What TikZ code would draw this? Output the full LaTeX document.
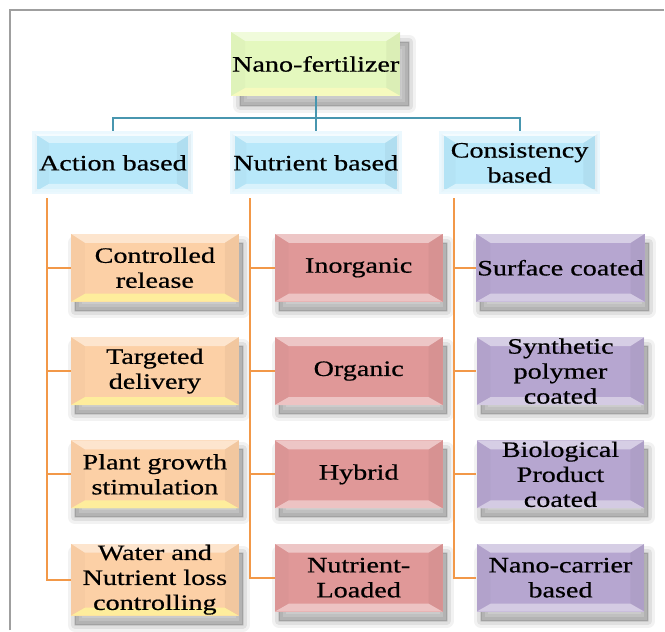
\documentclass[tikz,border=0pt]{standalone}
\usepackage{fontspec}
\setmainfont{Liberation Serif}[FakeStretch=1.28, FakeBold=0.6]
\usetikzlibrary{positioning,calc}
\definecolor{nanoGreen}{RGB}{228,248,190}
\definecolor{baseBlue}{RGB}{184,232,250}
\definecolor{actPeach}{RGB}{252,208,166}
\definecolor{nutRose}{RGB}{224,152,152}
\definecolor{consLilac}{RGB}{182,166,208}
\definecolor{linkTeal}{RGB}{72,150,175}
\definecolor{linkOrange}{RGB}{242,152,72}

\begin{document}
\begin{tikzpicture}[x=1pt, y=-1pt,
    every node/.style={font=\fontsize{22}{25}\selectfont, align=center, text=black},
    bevel/.style={postaction={path picture={
        \fill[white, opacity=0.45] (path picture bounding box.north west) -- (path picture bounding box.north east)
          -- ([xshift=-14pt, yshift=-9pt]path picture bounding box.north east) -- ([xshift=14pt, yshift=-9pt]path picture bounding box.north west) -- cycle;
        \fill[#1, opacity=0.7] (path picture bounding box.south west) -- (path picture bounding box.south east)
          -- ([xshift=-14pt, yshift=8pt]path picture bounding box.south east) -- ([xshift=14pt, yshift=8pt]path picture bounding box.south west) -- cycle;
        \fill[black, opacity=0.04] (path picture bounding box.north east) -- ([xshift=-14pt, yshift=-9pt]path picture bounding box.north east)
          -- ([xshift=-14pt, yshift=8pt]path picture bounding box.south east) -- (path picture bounding box.south east) -- cycle;
        \fill[black, opacity=0.02] (path picture bounding box.north west) -- ([xshift=14pt, yshift=-9pt]path picture bounding box.north west)
          -- ([xshift=14pt, yshift=8pt]path picture bounding box.south west) -- (path picture bounding box.south west) -- cycle;}}},
    softshadow/.style={
        preaction={draw=black, fill=black, line join=round, line width=14pt, opacity=0.05, transform canvas={shift={(#1)}}},
        preaction={draw=black, fill=black, line join=round, line width=8pt, opacity=0.07, transform canvas={shift={(#1)}}},
        preaction={draw=black, fill=black, line join=round, line width=2pt, opacity=0.09, transform canvas={shift={(#1)}}}},
    box/.style={rectangle, minimum width=168pt, minimum height=68pt, inner sep=1pt, softshadow={4,9}},
    rootbox/.style={rectangle, minimum width=166pt, minimum height=64pt, inner sep=1pt,
        softshadow={9,10}, fill=nanoGreen, bevel=yellow!25!white},
    headbox/.style={rectangle, minimum width=156pt, minimum height=58pt, inner sep=1pt,
        draw=cyan!8, line width=5pt, fill=baseBlue, bevel=cyan!10!white},
    actbox/.style={box, fill=actPeach, bevel=yellow!40!white},
    nutbox/.style={box, fill=nutRose, bevel=nutRose!40!white},
    consbox/.style={box, fill=consLilac, bevel=consLilac!40!white},
    tealline/.style={draw=linkTeal, line width=2pt},
    orangeline/.style={draw=linkOrange, line width=2pt}]

\fill[white] (0,0) rectangle (665,631);
\draw[gray!75, line width=1.2pt] (10,631) -- (10,10) -- (665,10);

% top levels
\node[rootbox] (nano) at (316,64) {Nano-fertilizer};
\node[headbox] (act) at (113,163) {Action based};
\node[headbox] (nut) at (316,163) {Nutrient based};
\node[headbox] (cons) at (520,163) {Consistency\\based};

% action based
\node[actbox] (a1) at (155,268) {Controlled\\release};
\node[actbox, below=35pt of a1] (a2) {Targeted\\delivery};
\node[actbox, below=35pt of a2] (a3) {Plant growth\\stimulation};
\node[actbox, below=35pt of a3] (a4) {Water and\\Nutrient loss\\controlling};

% nutrient based
\node[nutbox] (n1) at (359,268) {Inorganic};
\node[nutbox, below=35pt of n1] (n2) {Organic};
\node[nutbox, below=35pt of n2] (n3) {Hybrid};
\node[nutbox, below=35pt of n3] (n4) {Nutrient-\\Loaded};

% consistency based
\node[consbox] (c1) at (561,268) {Surface coated};
\node[consbox, below=35pt of c1] (c2) {Synthetic\\polymer\\coated};
\node[consbox, below=35pt of c2] (c3) {Biological\\Product\\coated};
\node[consbox, below=35pt of c3] (c4) {Nano-carrier\\based};

\coordinate (bus) at ($(nano.south)+(0,22)$);
\draw[tealline] (nano.south) -- (bus);
\draw[tealline] (bus) -| (act.north);
\draw[tealline] (bus) -| (cons.north);
\draw[tealline] (bus) -- (nut.north);

\foreach \col/\head in {a/act, n/nut, c/cons}
  \foreach \i in {1,...,4}
    \draw[orangeline] ($(\head.south)+(-66,4)$) |- (\col\i.west);
\end{tikzpicture}
\end{document}
